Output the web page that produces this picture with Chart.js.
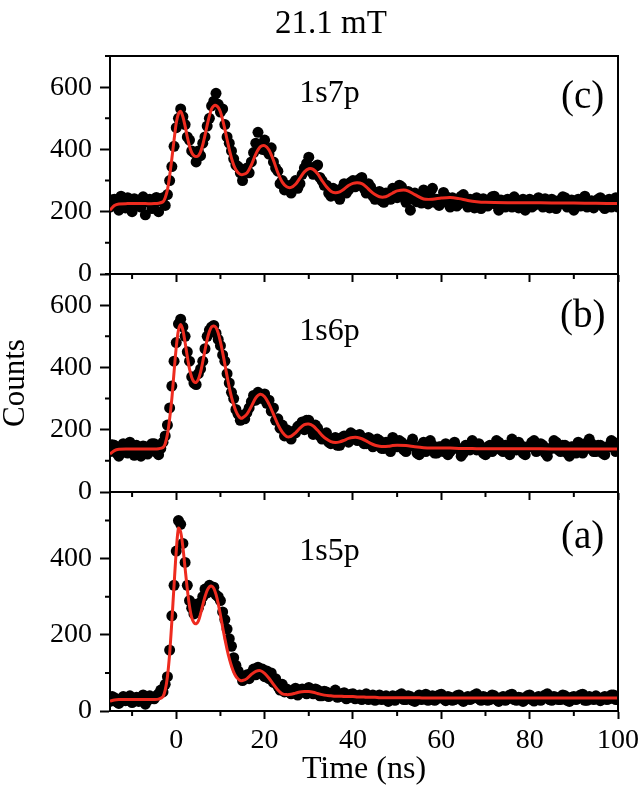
<!DOCTYPE html>
<html>
<head>
<meta charset="utf-8">
<script src="https://cdn.jsdelivr.net/npm/chart.js@4.4.1/dist/chart.umd.min.js"></script>
<style>
  html, body { margin: 0; padding: 0; background: #fff; }
  #wrap { position: relative; width: 640px; height: 797px; }
  #wrap canvas { position: absolute; left: 0; top: 0; }
  .box { position: absolute; box-sizing: border-box; border-top: 2px solid #000; border-right: 2px solid #000; pointer-events: none; }
</style>
</head>
<body>
<div id="wrap">
  <canvas id="p7" width="640" height="797"></canvas>
  <canvas id="p6" width="640" height="797"></canvas>
  <canvas id="p5" width="640" height="797"></canvas>
</div>
<script>
// time bins of the measured counts (ns)
const times = [
  -15, -14.5, -14, -13.5, -13, -12.5, -12, -11.5, -11, -10.5,
  -10, -9.5, -9, -8.5, -8, -7.5, -7, -6.5, -6, -5.5,
  -5, -4.5, -4, -3.5, -3, -2.5, -2, -1.5, -1, -0.5,
  0, 0.5, 1, 1.5, 2, 2.5, 3, 3.5, 4, 4.5,
  5, 5.5, 6, 6.5, 7, 7.5, 8, 8.5, 9, 9.5,
  10, 10.5, 11, 11.5, 12, 12.5, 13, 13.5, 14, 14.5,
  15, 15.5, 16, 16.5, 17, 17.5, 18, 18.5, 19, 19.5,
  20, 20.5, 21, 21.5, 22, 22.5, 23, 23.5, 24, 24.5,
  25, 25.5, 26, 26.5, 27, 27.5, 28, 28.5, 29, 29.5,
  30, 30.5, 31, 31.5, 32, 32.5, 33, 33.5, 34, 34.5,
  35, 35.5, 36, 36.5, 37, 37.5, 38, 38.5, 39, 39.5,
  40, 40.5, 41, 41.5, 42, 42.5, 43, 43.5, 44, 44.5,
  45, 45.5, 46, 46.5, 47, 47.5, 48, 48.5, 49, 49.5,
  50, 50.5, 51, 51.5, 52, 52.5, 53, 53.5, 54, 54.5,
  55, 55.5, 56, 56.5, 57, 57.5, 58, 58.5, 59, 59.5,
  60, 60.5, 61, 61.5, 62, 62.5, 63, 63.5, 64, 64.5,
  65, 65.5, 66, 66.5, 67, 67.5, 68, 68.5, 69, 69.5,
  70, 70.5, 71, 71.5, 72, 72.5, 73, 73.5, 74, 74.5,
  75, 75.5, 76, 76.5, 77, 77.5, 78, 78.5, 79, 79.5,
  80, 80.5, 81, 81.5, 82, 82.5, 83, 83.5, 84, 84.5,
  85, 85.5, 86, 86.5, 87, 87.5, 88, 88.5, 89, 89.5,
  90, 90.5, 91, 91.5, 92, 92.5, 93, 93.5, 94, 94.5,
  95, 95.5, 96, 96.5, 97, 97.5, 98, 98.5, 99, 99.5,
  100
];

// (c) 1s7p counts
const counts7p = [
  215, 238, 240, 222, 205, 250, 230, 212, 245, 228,
  200, 242, 235, 218, 215, 248, 190, 232, 240, 210,
  225, 246, 200, 235, 245, 220, 255, 300, 345, 410,
  470, 500, 530, 505, 480, 440, 430, 395, 390, 360,
  395, 380, 420, 440, 475, 500, 540, 555, 580, 545,
  520, 530, 480, 440, 420, 395, 370, 350, 345, 325,
  300, 330, 340, 325, 360, 390, 420, 455, 410, 400,
  430, 395, 385, 405, 360, 340, 330, 290, 300, 270,
  285, 270, 260, 290, 300, 275, 290, 320, 340, 355,
  375, 330, 320, 345, 350, 310, 300, 285, 285, 260,
  250, 275, 270, 250, 240, 275, 290, 260, 270, 295,
  300, 280, 285, 305, 310, 275, 260, 290, 280, 250,
  240, 262, 265, 235, 230, 260, 255, 240, 275, 258,
  245, 285, 280, 250, 230, 265, 205, 240, 260, 232,
  245, 228, 270, 240, 225, 255, 275, 230, 240, 220,
  230, 262, 250, 228, 215, 245, 240, 218, 225, 250,
  255, 232, 215, 240, 230, 212, 245, 235, 210, 242,
  235, 218, 225, 248, 250, 222, 205, 238, 230, 215,
  240, 225, 215, 248, 235, 212, 225, 240, 205, 232,
  240, 215, 220, 238, 245, 225, 215, 242, 230, 212,
  240, 222, 210, 235, 225, 248, 245, 215, 220, 238,
  205, 232, 240, 218, 230, 250, 215, 228, 235, 212,
  225, 240, 245, 218, 210, 232, 240, 215, 230, 245,
  215
];

// (b) 1s6p counts
const counts6p = [
  130, 152, 150, 125, 115, 145, 155, 128, 125, 160,
  140, 118, 150, 135, 115, 148, 145, 122, 130, 155,
  155, 128, 120, 140, 160, 180, 215, 270, 340, 420,
  480, 540, 555, 530, 500, 450, 420, 370, 350, 345,
  380, 395, 420, 460, 500, 520, 530, 535, 510, 490,
  470, 440, 420, 380, 350, 320, 300, 265, 250, 230,
  245, 235, 255, 270, 290, 310, 295, 320, 310, 300,
  315, 285, 295, 260, 270, 230, 235, 205, 215, 180,
  200, 185, 170, 195, 190, 210, 215, 225, 200, 230,
  230, 205, 185, 215, 205, 180, 170, 185, 190, 160,
  155, 170, 175, 150, 150, 175, 180, 165, 160, 190,
  185, 170, 165, 185, 175, 155, 155, 175, 170, 145,
  150, 170, 165, 140, 140, 160, 155, 130, 175, 150,
  145, 165, 160, 135, 130, 150, 155, 170, 145, 125,
  120, 150, 160, 130, 140, 165, 150, 125, 125, 145,
  145, 130, 155, 120, 130, 150, 160, 140, 140, 115,
  125, 150, 150, 135, 165, 140, 135, 155, 145, 125,
  120, 145, 150, 130, 140, 165, 160, 135, 130, 150,
  145, 120, 170, 150, 135, 160, 150, 125, 120, 145,
  145, 160, 165, 130, 135, 155, 150, 125, 115, 140,
  140, 165, 160, 135, 130, 150, 150, 125, 115, 145,
  145, 125, 160, 140, 125, 155, 140, 170, 155, 130,
  130, 150, 150, 125, 120, 145, 145, 165, 160, 130,
  135
];

// (a) 1s5p counts
const counts5p = [
  25, 38, 35, 24, 20, 32, 38, 27, 28, 40,
  22, 30, 36, 25, 30, 42, 18, 28, 40, 33,
  32, 40, 45, 55, 50, 70, 90, 160, 250, 330,
  420, 500, 490, 440, 390, 330, 290, 270, 255, 280,
  270, 285, 300, 320, 310, 330, 320, 325, 305, 300,
  290, 260, 240, 215, 190, 170, 140, 120, 105, 95,
  80, 90, 95, 85, 100, 110, 95, 115, 100, 110,
  90, 105, 85, 100, 75, 85, 65, 55, 70, 50,
  58, 50, 45, 55, 60, 42, 48, 58, 55, 45,
  62, 50, 45, 58, 55, 40, 40, 52, 50, 38,
  42, 48, 55, 36, 38, 45, 48, 32, 35, 44,
  45, 32, 38, 42, 30, 40, 45, 30, 36, 42,
  28, 38, 42, 30, 35, 40, 25, 33, 40, 28,
  33, 42, 45, 30, 30, 40, 38, 28, 25, 36,
  42, 30, 35, 44, 28, 33, 40, 28, 32, 42,
  44, 32, 27, 38, 36, 28, 30, 40, 42, 30,
  25, 35, 38, 30, 33, 42, 45, 32, 28, 38,
  36, 28, 30, 42, 40, 30, 25, 35, 38, 28,
  32, 42, 44, 30, 28, 36, 35, 25, 30, 40,
  42, 30, 26, 35, 38, 28, 33, 42, 45, 30,
  28, 38, 36, 30, 30, 42, 40, 28, 25, 36,
  38, 30, 33, 42, 44, 28, 28, 38, 35, 30,
  40, 32, 27, 35, 38, 30, 32, 42, 42, 30,
  30
];

// knots of the fitted curves (ns)
const fitTimes = [
  -15, -14, -13, -11, -9, -7, -5, -4,
  -3, -2.5, -2, -1.5, -1, -0.5, 0, 0.5, 1, 1.5, 2, 2.5, 3, 3.5, 4, 4.5, 5, 5.5, 6, 6.5, 7, 7.5,
  8, 8.5, 9, 9.5, 10, 10.5, 11, 11.5, 12, 12.5, 13, 13.5, 14, 14.5, 15,
  16, 17, 18, 19, 20, 21, 22, 23, 24, 25, 26, 27, 28, 29, 30, 31, 32, 33, 34, 35,
  36, 37, 38, 39, 40, 41, 42, 43, 44, 45, 46, 47, 48, 49, 50,
  52, 54, 56, 58, 60, 62, 64, 66, 68, 70, 75, 80, 85, 90, 95, 100
];

const fit7p = [
  205, 220, 225, 226, 226, 226, 226, 227,
  232, 245, 270, 315, 370, 430, 485, 515, 522, 505, 475, 440, 410, 390, 380, 377, 380, 392, 415, 445, 478, 508,
  530, 540, 541, 535, 520, 495, 465, 432, 400, 372, 350, 335, 325, 320, 319,
  325, 350, 385, 408, 412, 398, 365, 325, 295, 280, 278, 288, 308, 328, 338, 336, 322, 300, 280, 266,
  261, 264, 273, 284, 291, 293, 290, 280, 266, 255, 248, 247, 252, 260, 267,
  269, 255, 241, 240, 244, 246, 242, 236, 232, 230, 229, 229, 228, 228, 227, 226
];

const fit6p = [
  122, 133, 137, 138, 138, 138, 138, 139,
  143, 155, 185, 235, 300, 385, 465, 520, 538, 520, 480, 435, 395, 368, 354, 352, 362, 385, 418, 455, 490, 515,
  530, 533, 528, 510, 482, 448, 410, 372, 336, 305, 280, 260, 246, 238, 238,
  250, 275, 302, 314, 306, 282, 250, 217, 192, 178, 179, 190, 205, 216, 218, 212, 198, 182, 170, 162,
  159, 161, 166, 172, 175, 175, 171, 164, 156, 150, 147, 146, 147, 149, 150,
  149, 145, 142, 141, 141, 141, 140, 140, 139, 139, 139, 139, 138, 138, 138, 138
];

const fit5p = [
  26, 29, 30, 30, 30, 30, 30, 31,
  38, 55, 90, 150, 235, 330, 420, 480, 470, 430, 375, 320, 275, 245, 232, 229, 236, 255, 278, 300, 317, 326,
  328, 322, 306, 282, 252, 220, 190, 162, 138, 118, 102, 91, 84, 80, 80,
  85, 96, 104, 106, 99, 86, 70, 55, 45, 43, 44, 47, 50, 51, 51, 49, 46, 43, 41, 40,
  39, 39, 38, 38, 38, 37, 37, 36, 36, 36, 35, 35, 35, 35, 35,
  35, 35, 34, 34, 34, 34, 34, 34, 34, 34, 34, 34, 34, 34, 34, 34
];

const xMajorTicks = [0, 20, 40, 60, 80, 100];
const xMinorTicks = [-10, 10, 30, 50, 70, 90];
const yMajorTicks = [0, 200, 400, 600];
const yMinorTicks = [100, 300, 500, 700];

const SERIF = '"Liberation Serif", "Times New Roman", serif';
const RED = '#ee2b1f';

// minor ticks and text labels of each panel
const panelDeco = {
  id: 'panelDeco',
  afterDraw(chart, args, o) {
    const { ctx, chartArea: a, scales: { x, y } } = chart;
    ctx.save();
    ctx.strokeStyle = '#000';
    ctx.lineWidth = 2;
    ctx.beginPath();
    xMinorTicks.forEach(v => {
      const px = x.getPixelForValue(v);
      ctx.moveTo(px, a.bottom);
      ctx.lineTo(px, a.bottom + 5);
    });
    yMinorTicks.filter(v => v <= y.max).forEach(v => {
      const py = y.getPixelForValue(v);
      ctx.moveTo(a.left, py);
      ctx.lineTo(a.left - 5, py);
    });
    ctx.stroke();

    ctx.fillStyle = '#000';
    ctx.textAlign = 'center';
    ctx.textBaseline = 'alphabetic';
    ctx.font = '32px ' + SERIF;
    ctx.fillText(o.name, x.getPixelForValue(34.7), a.top + o.nameDy);
    ctx.font = '39px ' + SERIF;
    ctx.fillText(o.tag, x.getPixelForValue(92), a.top + o.tagDy);
    if (o.title) {
      ctx.font = '33px ' + SERIF;
      ctx.fillText(o.title, 331, 33);
    }
    ctx.restore();
  }
};

// top and right edges of a panel's box, laid over the chart area
function addBox(chart) {
  const a = chart.chartArea;
  const box = document.createElement('div');
  box.className = 'box';
  box.style.left = (a.left - 1) + 'px';
  box.style.top = (a.top - 1) + 'px';
  box.style.width = (a.right - a.left + 2) + 'px';
  box.style.height = (a.bottom - a.top + 1) + 'px';
  document.getElementById('wrap').appendChild(box);
}

function panel(id, p) {
  return new Chart(document.getElementById(id), {
    type: 'scatter',
    data: {
      datasets: [
        {
          label: p.name + ' fit',
          data: fitTimes.map((t, i) => ({ x: t, y: p.fit[i] })),
          showLine: true,
          borderColor: RED,
          borderWidth: 3,
          pointRadius: 0,
          tension: 0.3,
          order: 0
        },
        {
          label: p.name,
          data: times.map((t, i) => ({ x: t, y: p.counts[i] })),
          pointRadius: 5.5,
          pointBackgroundColor: '#000',
          pointBorderWidth: 0,
          order: 1
        }
      ]
    },
    options: {
      responsive: false,
      animation: false,
      events: [],
      layout: { padding: { left: 0, right: 22, top: p.top, bottom: p.padBottom } },
      plugins: {
        legend: { display: false },
        tooltip: { enabled: false },
        panelDeco: { name: p.name, tag: p.tag, nameDy: p.nameDy, tagDy: p.tagDy, title: p.title }
      },
      scales: {
        x: {
          type: 'linear',
          min: -15,
          max: 100,
          afterFit: s => { s.height = p.xHeight; s.paddingRight = 0; s.paddingLeft = 0; },
          afterBuildTicks: s => { s.ticks = xMajorTicks.map(v => ({ value: v })); },
          border: { display: true, color: '#000', width: 2 },
          grid: { drawOnChartArea: false, drawTicks: true, tickLength: 8, tickColor: '#000', tickWidth: 2 },
          ticks: {
            display: p.showX, autoSkip: false, maxRotation: 0,
            color: '#000', font: { family: SERIF, size: 28 }, padding: 5
          },
          title: {
            display: p.showX, text: 'Time (ns)', color: '#000',
            font: { family: SERIF, size: 32 }, padding: { top: 0, bottom: 8 }
          }
        },
        y: {
          min: 0,
          max: p.yMax,
          afterFit: s => { s.width = 110; },
          afterBuildTicks: s => { s.ticks = yMajorTicks.filter(v => v <= p.yMax).map(v => ({ value: v })); },
          border: { display: true, color: '#000', width: 2 },
          grid: { drawOnChartArea: false, drawTicks: true, tickLength: 10, tickColor: '#000', tickWidth: 2 },
          ticks: {
            color: '#000', font: { family: SERIF, size: 28 }, padding: 8
          },
          title: {
            display: p.showY, text: 'Counts', color: '#000',
            font: { family: SERIF, size: 31, lineHeight: 1 }, padding: 0
          }
        }
      }
    },
    plugins: [panelDeco]
  });
}

const charts = [
  panel('p7', {
    name: '1s7p', tag: '(c)', title: '21.1 mT', counts: counts7p, fit: fit7p,
    yMax: 700, top: 56, padBottom: 511, xHeight: 12, showX: false, showY: false,
    nameDy: 46, tagDy: 52
  }),
  panel('p6', {
    name: '1s6p', tag: '(b)', counts: counts6p, fit: fit6p,
    yMax: 700, top: 274, padBottom: 293, xHeight: 12, showX: false, showY: true,
    nameDy: 66, tagDy: 53
  }),
  panel('p5', {
    name: '1s5p', tag: '(a)', counts: counts5p, fit: fit5p,
    yMax: 575, top: 492, padBottom: 0, xHeight: 86, showX: true, showY: false,
    nameDy: 68, tagDy: 56
  })
];
charts.forEach(addBox);
</script>
</body>
</html>
